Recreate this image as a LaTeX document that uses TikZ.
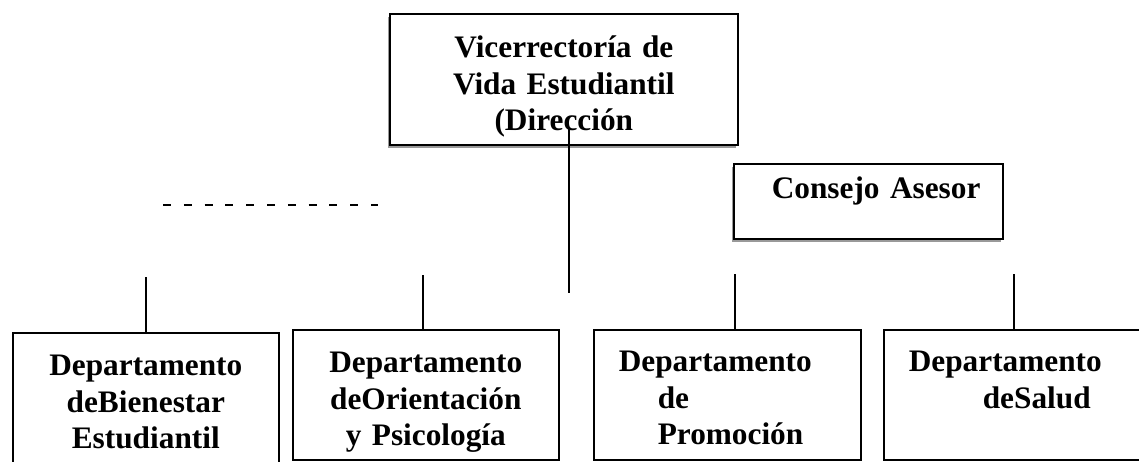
\documentclass[tikz,border=0pt]{standalone}
\usepackage{fontspec}
\setmainfont{Liberation Serif}
\usetikzlibrary{shadows}
\begin{document}
\begin{tikzpicture}[x=1pt,y=-1pt]
    \newcommand\trait[2]{\draw[c] (#1) -- (#1 |- #2.north);}
    \tikzstyle{box}=[draw,line width=1.6pt,fill=white,inner sep=0pt,anchor=north west,
                     font=\fontsize{31.3}{36.4}\selectfont\bfseries]
    \tikzstyle{ombre}=[drop shadow={shadow xshift=-1.5pt,shadow yshift=-3.5pt,fill=black!40,opacity=1}]
    \tikzstyle{c}=[line width=1.2pt]
    \tikzstyle{tirets}=[line width=1.6pt,dash pattern=on 8pt off 12.8pt]
    \useasboundingbox (0,0) rectangle (1139,461);
    \clip (0,0) rectangle (1139,461);
    \node[box,ombre,align=center,text width=348pt,text height=44pt,text depth=87pt] at (389,13) (vice)
         {Vicerrectoría de\\Vida Estudiantil\\(Dirección};
    \node[box,ombre,align=left,text width=269pt,text height=35pt,text depth=40pt] at (733,163) (consejo)
         {\hspace*{38pt}Consejo Asesor};
    \node[box,align=center,text width=266pt,text height=43pt,text depth=130pt] at (12,332) (bien)
         {Departamento\\deBienestar\\Estudiantil};
    \node[box,align=center,text width=266pt,text height=43pt,text depth=87pt] at (292,329) (orient)
         {Departamento\\deOrientación\\y Psicología};
    \node[box,align=left,text width=267pt,text height=42pt,text depth=88pt] at (593,329) (promo)
         {\hspace*{25pt}Departamento\\\hspace*{64pt}de\\\hspace*{64pt}Promoción};
    \node[box,align=left,text width=300pt,text height=42pt,text depth=88pt] at (883,329) (salud)
         {\hspace*{25pt}Departamento\\\hspace*{99pt}deSalud};
    \coordinate (d1) at (163,205);
    \coordinate (d2) at (378,205);
    \coordinate (vh) at (569,128);
    \coordinate (vb) at (569,293);
    \coordinate (t1) at (146,277);
    \coordinate (t2) at (423,275);
    \coordinate (t3) at (735,274);
    \coordinate (t4) at (1014,274);
    \draw[tirets] (d1) -- (d2); % ligne pointillee
    \draw[c] (vh) -- (vb);
    \trait{t1}{bien}\trait{t2}{orient}\trait{t3}{promo}\trait{t4}{salud} % liens seuls
\end{tikzpicture}
\end{document}
